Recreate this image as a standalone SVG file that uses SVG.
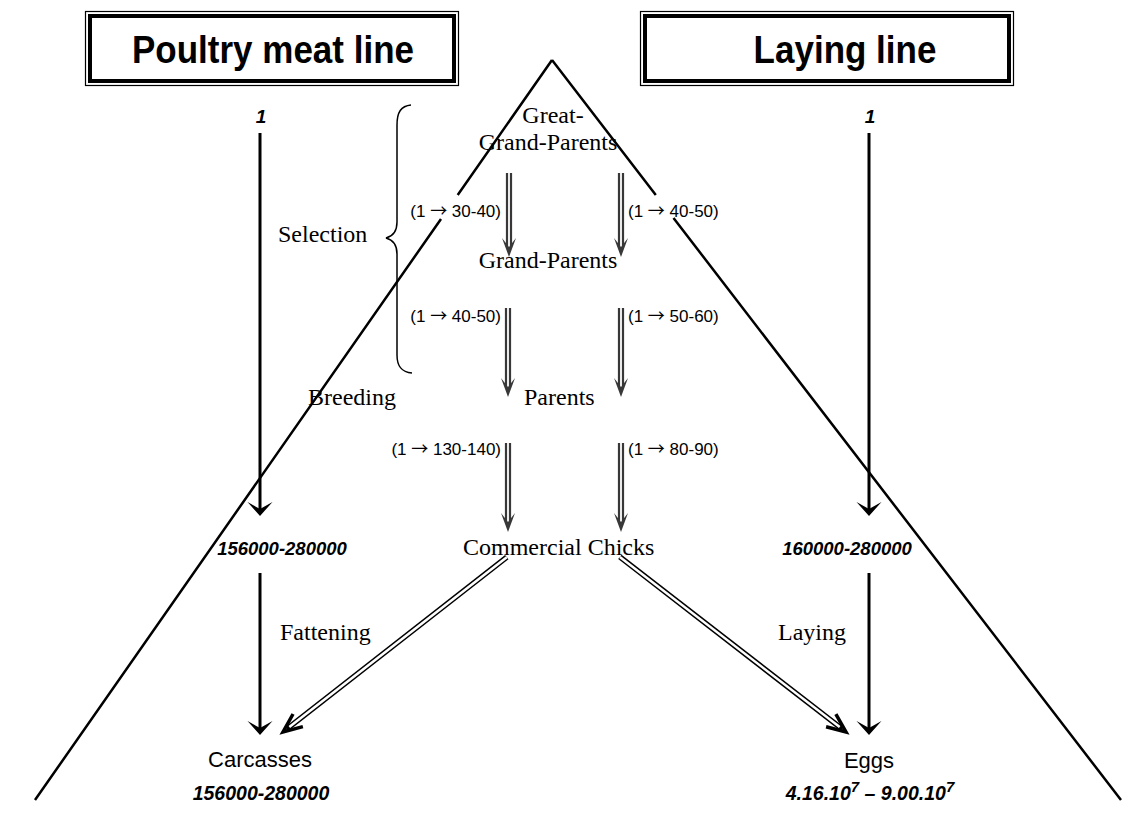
<svg xmlns="http://www.w3.org/2000/svg" width="1131" height="825" viewBox="0 0 1131 825">
<style>
.serif{font-family:"Liberation Serif","Times New Roman",serif;font-size:24px;fill:#000}
.sans{font-family:"Liberation Sans",Arial,sans-serif;fill:#000}
.ratio{font-family:"Liberation Sans",Arial,sans-serif;font-size:17px;fill:#000}
.arr{font-family:"Noto Sans CJK SC","DejaVu Sans",sans-serif;font-size:17px}
.num{font-family:"Liberation Sans",Arial,sans-serif;font-weight:bold;font-style:italic;fill:#000}
.head{font-family:"Liberation Sans",Arial,sans-serif;font-weight:bold;font-size:35px;fill:#000}
.tri{stroke:#000;stroke-width:2.5;fill:none}
.blk{stroke:#000;stroke-width:3;fill:none}
.gry{stroke:#383838;stroke-width:2.2;fill:none}
.thin{stroke:#000;stroke-width:1.2;fill:none}
.thick{stroke:#000;stroke-width:4;fill:none}
</style>
<defs>
<path id="bhead" d="M-12.5,-14 L0,0 L12.5,-14 L0,-7 Z" fill="#000"/>
<path id="ghead" d="M-7,-19 L0,0 L7,-19 L0,-10 Z" fill="#383838"/>
</defs>
<rect width="1131" height="825" fill="#fff"/>

<g id="box-meat">
<rect class="thin" x="85.5" y="11.5" width="373" height="74"/>
<rect class="thick" x="90" y="16" width="364" height="65"/>
<text class="head" transform="translate(273,63) scale(1,1.1)" text-anchor="middle">Poultry meat line</text>
</g>
<g id="box-laying">
<rect class="thin" x="640.5" y="11.5" width="373" height="74"/>
<rect class="thick" x="645" y="16" width="364" height="65"/>
<text class="head" transform="translate(845,63) scale(1,1.1)" text-anchor="middle">Laying line</text>
</g>

<g id="pyramid">
<path class="tri" d="M552,60 L457.7,195 M441,219 L35,800"/>
<path class="tri" d="M552,60 L655.8,195 M673.5,218 L1121,800"/>
</g>

<g id="selection-brace">
<path d="M411,105 C401,106 397,112 397,125 L397,222 C397,231 394,236 386,238 C394,240 397,245 397,254 L397,355 C397,366 401,372 412,373" fill="none" stroke="#000" stroke-width="1.5"/>
<text class="serif" x="278" y="242">Selection</text>
</g>
<g id="breeding"><text class="serif" x="308" y="405">Breeding</text></g>

<g id="ggp"><text class="serif" x="553" y="123" text-anchor="middle">Great-</text><text class="serif" x="548" y="150" text-anchor="middle">Grand-Parents</text></g>
<g id="gp"><text class="serif" x="548" y="268" text-anchor="middle">Grand-Parents</text></g>
<g id="parents"><text class="serif" x="524" y="405">Parents</text></g>
<g id="chicks"><text class="serif" x="463" y="555">Commercial Chicks</text></g>

<g id="meat-col">
<text class="num" x="261" y="123" font-size="19" text-anchor="middle">1</text>
<text class="num" x="282" y="555" font-size="18.5" text-anchor="middle">156000-280000</text>
<text class="serif" x="280" y="640">Fattening</text>
<text class="sans" x="260" y="767" font-size="22" text-anchor="middle">Carcasses</text>
<text class="num" x="261" y="800" font-size="19.5" text-anchor="middle">156000-280000</text>
</g>
<g id="lay-col">
<text class="num" x="870" y="123" font-size="19" text-anchor="middle">1</text>
<text class="num" x="847" y="555" font-size="18.5" text-anchor="middle">160000-280000</text>
<text class="serif" x="778" y="640">Laying</text>
<text class="sans" x="869" y="768" font-size="22" text-anchor="middle">Eggs</text>
<text class="num" x="870" y="800" font-size="19.5" text-anchor="middle">4.16.10<tspan font-size="15" dy="-8">7</tspan><tspan dy="8"> – 9.00.10</tspan><tspan font-size="15" dy="-8">7</tspan></text>
</g>

<g id="ratios">
<text class="ratio" x="501" y="217" text-anchor="end">(1 <tspan class="arr">→</tspan> 30-40)</text>
<text class="ratio" x="628" y="217">(1 <tspan class="arr">→</tspan> 40-50)</text>
<text class="ratio" x="501" y="322" text-anchor="end">(1 <tspan class="arr">→</tspan> 40-50)</text>
<text class="ratio" x="628" y="322">(1 <tspan class="arr">→</tspan> 50-60)</text>
<text class="ratio" x="501" y="455" text-anchor="end">(1 <tspan class="arr">→</tspan> 130-140)</text>
<text class="ratio" x="628" y="455">(1 <tspan class="arr">→</tspan> 80-90)</text>
</g>

<g id="connectors">
<path class="blk" d="M260,133 V510 M260,573 V729 M869,133 V510 M869,573 V729"/>
<use href="#bhead" x="260" y="516"/>
<use href="#bhead" x="260" y="735"/>
<use href="#bhead" x="869" y="516"/>
<use href="#bhead" x="869" y="735"/>

<path class="gry" d="M507,173 V246 M511,173 V246 M619,173 V246 M623,173 V246"/>
<use href="#ghead" x="509" y="257"/>
<use href="#ghead" x="621" y="257"/>
<path class="gry" d="M506,308 V386 M510,308 V386 M619,308 V386 M623,308 V386"/>
<use href="#ghead" x="508" y="397"/>
<use href="#ghead" x="621" y="397"/>
<path class="gry" d="M506,443 V521 M510,443 V521 M619,443 V521 M623,443 V521"/>
<use href="#ghead" x="508" y="532"/>
<use href="#ghead" x="621" y="532"/>

<g transform="translate(283,732) rotate(142)">
<path d="M-284,0 H-5" stroke="#000" stroke-width="5.5" fill="none"/>
<path d="M-284,0 H-8" stroke="#fff" stroke-width="2.5" fill="none"/>
<path d="M-19,-8 L0,0 L-19,8" stroke="#000" stroke-width="3.5" fill="none"/>
</g>
<g transform="translate(846,732) rotate(37.75)">
<path d="M-286,0 H-5" stroke="#000" stroke-width="5.5" fill="none"/>
<path d="M-286,0 H-8" stroke="#fff" stroke-width="2.5" fill="none"/>
<path d="M-19,-8 L0,0 L-19,8" stroke="#000" stroke-width="3.5" fill="none"/>
</g>
</g>
</svg>
